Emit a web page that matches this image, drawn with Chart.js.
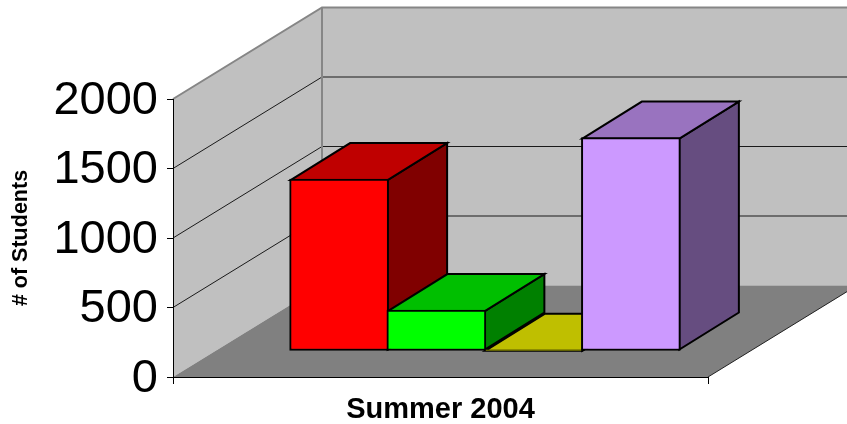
<!DOCTYPE html>
<html>
<head>
<meta charset="utf-8">
<style>html,body{margin:0;padding:0;background:#fff}canvas{display:block}</style>
<script src="https://cdn.jsdelivr.net/npm/chart.js@4"></script>
</head>
<body>
<canvas id="c" width="847" height="424"></canvas>
<script>
const categories = ['Summer 2004'];
const barSlots = [0.5, 1.5, 2.5, 3.5];
const barValues = [1233, 291, 5, 1532];
const frontColors = ['#FF0000', '#00FF00', '#FFFF00', '#CC99FF'];
const topColors = ['#BF0000', '#00BF00', '#BFBF00', '#9973BF'];
const sideColors = ['#800000', '#008000', '#808000', '#664D80'];
const yMax = 2000, yStep = 500;

const WALL = '#C0C0C0', FLOOR = '#808080', EDGE = '#868686';
const roomDX = 149, backZero = 285.5, backScale = 1;
const barDX = 59.5, barDY = -37;

function poly(ctx, pts, fill, stroke, lw) {
  ctx.beginPath();
  pts.forEach((p, i) => i ? ctx.lineTo(p[0], p[1]) : ctx.moveTo(p[0], p[1]));
  ctx.closePath();
  if (fill) { ctx.fillStyle = fill; ctx.fill(); }
  if (stroke) { ctx.strokeStyle = stroke; ctx.lineWidth = lw; ctx.lineJoin = 'miter'; ctx.stroke(); }
}

const room = {
  id: 'room',
  beforeDraw(chart) {
    const { ctx, scales } = chart, y = scales.y, x = scales.x;
    const L = x.left, R = x.right, Z = y.getPixelForValue(0), T = y.getPixelForValue(yMax);
    const backY = p => backZero - (Z - p) * backScale;
    const BL = L + roomDX, BR = R + roomDX;
    ctx.save();
    poly(ctx, [[L, Z], [BL, backZero], [BL, backY(T)], [L, T]], WALL);
    poly(ctx, [[BL, backZero], [BR, backZero], [BR, backY(T)], [BL, backY(T)]], WALL);
    poly(ctx, [[L, Z], [R, Z], [BR, backZero], [BL, backZero]], FLOOR);
    ctx.lineCap = 'butt';
    y.ticks.forEach(t => {
      if (t.value === 0 || t.value === yMax) return;
      const p = y.getPixelForValue(t.value);
      ctx.beginPath();
      ctx.moveTo(L, p); ctx.lineTo(BL, backY(p)); ctx.lineTo(BR, backY(p));
      ctx.strokeStyle = '#1a1a1a'; ctx.lineWidth = 1; ctx.stroke();
    });
    ctx.beginPath();
    ctx.moveTo(L, T); ctx.lineTo(BL, backY(T)); ctx.lineTo(BR, backY(T));
    ctx.moveTo(BL, backY(T)); ctx.lineTo(BL, backZero);
    ctx.strokeStyle = EDGE; ctx.lineWidth = 2; ctx.stroke();
    ctx.beginPath();
    ctx.moveTo(R, Z); ctx.lineTo(BR, backZero);
    ctx.strokeStyle = '#222'; ctx.lineWidth = 1; ctx.stroke();
    ctx.restore();
  },
  beforeDatasetsDraw(chart) {
    const { ctx } = chart;
    const meta = chart.getDatasetMeta(0);
    ctx.save();
    meta.data.forEach((bar, i) => {
      const { x, y, base, width } = bar.getProps(['x', 'y', 'base', 'width'], true);
      const l = x - width / 2 + 1, r = x + width / 2 - 1, t = y + 1, b = base - 1;
      poly(ctx, [[r, t], [r + barDX, t + barDY], [r + barDX, b + barDY], [r, b]], sideColors[i], '#000', 2);
      poly(ctx, [[l, t], [l + barDX, t + barDY], [r + barDX, t + barDY], [r, t]], topColors[i], '#000', 2);
    });
    ctx.restore();
  }
};

new Chart(document.getElementById('c'), {
  type: 'bar',
  data: {
    labels: categories,
    datasets: [{
      data: barSlots.map((s, i) => ({ x: s, y: barValues[i] })),
      xAxisID: 'xBars',
      yAxisID: 'yBars',
      backgroundColor: frontColors,
      borderColor: '#000',
      borderWidth: 2,
      borderSkipped: false,
      barThickness: 99
    }]
  },
  options: {
    responsive: false,
    animation: false,
    events: [],
    layout: { padding: { top: 99, right: 139, left: 0, bottom: 0 } },
    plugins: { legend: { display: false }, tooltip: { enabled: false }, title: { display: false } },
    scales: {
      x: {
        type: 'category',
        position: 'bottom',
        offset: true,
        grid: { drawOnChartArea: false, tickLength: 7, color: '#000', offset: true },
        border: { color: '#000', width: 1 },
        ticks: { color: '#000', font: { family: 'Liberation Sans', size: 29, weight: 'bold' }, padding: 9, maxRotation: 0 },
        afterFit(s) { s.height = 47; }
      },
      y: {
        type: 'linear',
        position: 'left',
        min: 0, max: yMax,
        title: { display: true, text: '# of Students', color: '#000', padding: { top: 8, bottom: 0 }, font: { family: 'Liberation Sans', size: 21.5, weight: 'bold' } },
        grid: { drawOnChartArea: false, tickLength: 6, color: '#000' },
        border: { color: '#000', width: 1 },
        ticks: { stepSize: yStep, color: '#000', font: { family: 'Liberation Sans', size: 47 }, padding: 9, labelOffset: 2, callback: v => String(v) },
        afterFit(s) { s.width = 173; }
      },
      xBars: { type: 'linear', display: false, offset: false, position: 'bottom', min: -1.208, max: 4.293 },
      yBars: { type: 'linear', display: false, position: 'left', min: -190.6, max: 1809.4 }
    }
  },
  plugins: [room]
});
</script>
</body>
</html>
